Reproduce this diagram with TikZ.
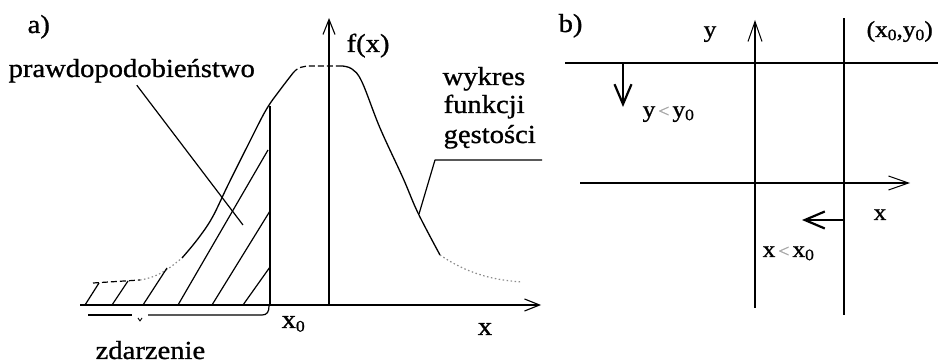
\documentclass[tikz,border=0pt]{standalone}
\usepackage{fontspec}
\setmainfont{Liberation Serif}
\newfontfamily\tfont[FakeStretch=1.1,FakeBold=1]{Liberation Serif}
\usetikzlibrary{arrows.meta}
\newcommand\zsub{\raisebox{-0.3ex}{\fontsize{16}{16}\selectfont 0}}
\newcommand\faintlt{\textcolor{black!35}{\fontsize{18}{18}\selectfont<}}
\begin{document}
\begin{tikzpicture}[x=1pt,y=-1pt,line width=1.3pt,line join=round,
  lbl/.style={font=\tfont\fontsize{26}{30}\selectfont,inner sep=0pt},
  lblb/.style={font=\tfont\fontsize{23}{27}\selectfont,inner sep=0pt},
  axis/.style={line width=1.4pt,-{Straight Barb[length=15pt,width=12pt,line width=1.1pt]}},
  axisb/.style={line width=1.3pt,-{Straight Barb[length=20pt,width=14pt,line width=1pt]}},
  bold arrow/.style={line width=2pt,-{Straight Barb[length=20pt,width=17pt,line width=2.2pt]}},
  curve/.style={line width=1.3pt},
  dashcurve/.style={line width=1.2pt,dash pattern=on 6pt off 3pt},
  dotcurve/.style={line width=1.2pt,black!45,dash pattern=on 1.5pt off 2.5pt},
  hatch/.style={line width=1.2pt},
  thin line/.style={line width=1.2pt}]
\useasboundingbox (0,0) rectangle (938,363);

% ---------- panel a ----------
\node[lbl,anchor=base west] (la) at (27,33) {a)};
\coordinate (o) at (329,305);
\coordinate (fxtop) at (329,18);
\coordinate (xl) at (80,305);
\coordinate (xr) at (541,305);
\draw[axis] (o) -- (fxtop);
\draw[axis] (xl) -- (xr);
\node[lbl,anchor=base west] (fx) at (346,52) {f(x)};
\node[lbl,anchor=base] (xa) at (485,335) {x};
\node[lbl,anchor=base west] (x0a) at (281,328) {x\zsub};

% x0 line
\coordinate (x0b) at (270,305);
\coordinate (x0t) at (270,106);
\draw[line width=1.5pt] (x0b) -- (x0t);

% density curve
\draw[dashcurve] (93,283) -- (140,280);
\draw[dotcurve] (140,280) .. controls (160,277) and (172,266) .. (182,258);
\draw[curve] plot[smooth,tension=0.6] coordinates {(182,258) (197,240) (212,218) (228,185) (248,145) (266,110) (280,90) (293,73)};
\draw[dashcurve] (293,73) .. controls (298,67) and (303,66) .. (312,66) -- (342,66);
\draw[curve] plot[smooth,tension=0.6] coordinates {(342,66) (352,69) (362,82) (380,128) (403,178) (418,213) (440,255)};
\draw[dotcurve] (440,255) .. controls (465,272) and (490,280) .. (522,282);

% hatching
\draw[hatch] (85,305) -- (99,283);
\draw[hatch] (112,305) -- (128,281);
\draw[hatch] (143,305) -- (167,268);
\draw[hatch] (178,305) -- (268,150);
\draw[hatch] (212,305) -- (270,211);
\draw[hatch] (243,305) -- (270,267);

% leader for prawdopodobienstwo
\node[lbl,anchor=base west] (prob) at (8,77) {prawdopodobieństwo};
\coordinate (probend) at (243,225);
\draw[thin line] (prob.south) ++(5,2) -- (probend);

% wykres funkcji gestosci
\node[lbl,anchor=base west] (w1) at (442,85) {wykres};
\node[lbl,anchor=base west] (w2) at (443,113) {funkcji};
\node[lbl,anchor=base west] (w3) at (443,143) {gęstości};
\coordinate (ld1) at (542,160);
\coordinate (ld2) at (435,160);
\coordinate (ld3) at (419,214);
\draw[thin line] (ld1) -- (ld2) -- (ld3);

% zdarzenie brace
\coordinate (br1) at (88,315);
\coordinate (br2) at (132,315);
\coordinate (br3) at (148,315);
\coordinate (br4) at (262,315);
\coordinate (br5) at (269,306);
\draw[thin line] (br1) -- (br2);
\draw[line width=0.9pt] (138,318) -- (140,321) -- (142,318);
\draw[thin line] (br3) -- (br4) .. controls (267,315) and (269,312) .. (br5);
\node[lbl,anchor=base west] (zd) at (95,359) {zdarzenie};

% ---------- panel b ----------
\node[lbl,anchor=base west] (lb) at (558,32) {b)};
\coordinate (h1) at (565,63);
\coordinate (h2) at (938,63);
\draw[thin line] (h1) -- (h2);
\coordinate (ya) at (755,308);
\coordinate (yt) at (755,20);
\draw[axisb] (ya) -- (yt);
\coordinate (v0a) at (844,315);
\coordinate (v0t) at (844,18);
\draw[thin line] (v0a) -- (v0t);
\coordinate (xbl) at (580,183);
\coordinate (xbr) at (910,183);
\draw[axisb] (xbl) -- (xbr);
\node[lblb,anchor=base] (yb) at (710,37) {y};
\node[lblb,anchor=base west] (pt) at (866,37) {(x\zsub,y\zsub)};
\node[lblb,anchor=base] (xb) at (880,220) {x};
\coordinate (da1) at (623,63);
\coordinate (da2) at (623,107);
\draw[bold arrow] (da1) -- (da2);
\node[lblb,anchor=base west] (yy) at (642,117) {y\hspace{3pt}\faintlt\hspace{3pt}y\zsub};
\coordinate (la1) at (844,220);
\coordinate (la2) at (802,220);
\draw[bold arrow] (la1) -- (la2);
\node[lblb,anchor=base west] (xx) at (762,257) {x\hspace{3pt}\faintlt\hspace{3pt}x\zsub};
\end{tikzpicture}
\end{document}
